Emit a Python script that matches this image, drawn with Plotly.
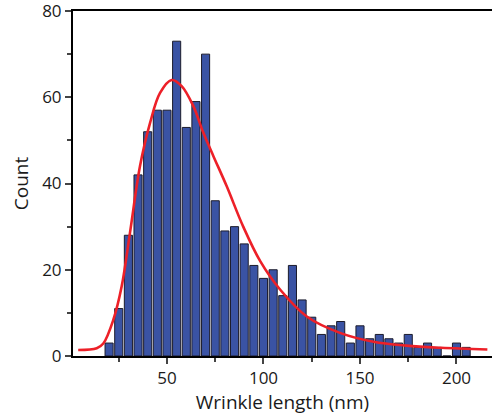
import plotly.graph_objects as go

# Histogram data (bin centers in nm, counts)
bin_centers = [20, 25, 30, 35, 40, 45, 50, 55, 60, 65, 70, 75, 80, 85, 90, 95,
               100, 105, 110, 115, 120, 125, 130, 135, 140, 145, 150, 155, 160,
               165, 170, 175, 180, 185, 190, 195, 200, 205]
counts = [3, 11, 28, 42, 52, 57, 57, 73, 53, 59, 70, 36, 29, 30, 26, 21,
          18, 20, 14, 21, 13, 9, 5, 7, 8, 3, 7, 4, 5, 4, 3, 5, 2, 3, 2, 0, 3, 2]

# Fitted curve, points
fit_x = [4.0, 13.6, 17.0, 22.2, 26.5, 30.8, 36.0, 41.2, 46.4, 52.4, 57.6, 63.6,
         68.8, 74.0, 80.9, 89.5, 98.3, 108.8, 122.6, 140, 157, 174, 192, 216]
fit_y = [1.4, 1.8, 2.9, 8.4, 16.1, 28.5, 44.0, 54.0, 61.0, 64.0, 62.6, 58.0,
         51.8, 46.4, 39.4, 30.0, 22.0, 15.3, 9.1, 5.3, 3.3, 2.4, 1.9, 1.5]

x_ticks = [50, 100, 150, 200]
y_ticks = [0, 20, 40, 60, 80]

fig = go.Figure()
fig.add_trace(go.Bar(
    x=bin_centers, y=counts, width=4.2,
    marker=dict(color="rgb(58,83,164)", line=dict(color="#1c1c2c", width=1)),
    showlegend=False,
))
fig.add_trace(go.Scatter(
    x=fit_x, y=fit_y, mode="lines", line=dict(color="rgb(237,32,40)", width=2.6, shape="spline", smoothing=1.0),
    showlegend=False,
))

font_fam = "Open Sans, Noto Sans, sans-serif"
fig.update_layout(
    width=492, height=417,
    margin=dict(l=73, r=0, t=11, b=61),
    plot_bgcolor="white", paper_bgcolor="white",
    font=dict(family=font_fam, color="#1a1a1a", size=15),
    xaxis=dict(
        range=[1.3, 218.4], tickvals=x_ticks, ticks="outside", ticklen=6, tickwidth=1.5,
        showline=True, linecolor="black", linewidth=2, mirror=True, showgrid=False, zeroline=False,
        minor=dict(tickvals=[25, 75, 125, 175], ticks="outside", ticklen=4, tickwidth=1.5, showgrid=False),
        title=dict(text="Wrinkle length (nm)", font=dict(size=19), standoff=6),
        tickfont=dict(size=17), ticklabeloverflow="allow",
    ),
    yaxis=dict(
        range=[0, 80], tickvals=y_ticks, ticks="outside", ticklen=6, tickwidth=1.5,
        showline=True, linecolor="black", linewidth=2, showgrid=False, zeroline=False,
        minor=dict(tickvals=[10, 30, 50, 70], ticks="outside", ticklen=4, tickwidth=1.5, showgrid=False),
        title=dict(text="Count", font=dict(size=19), standoff=8),
        tickfont=dict(size=17), ticklabeloverflow="allow",
    ),
)
fig.write_html("out.html")
